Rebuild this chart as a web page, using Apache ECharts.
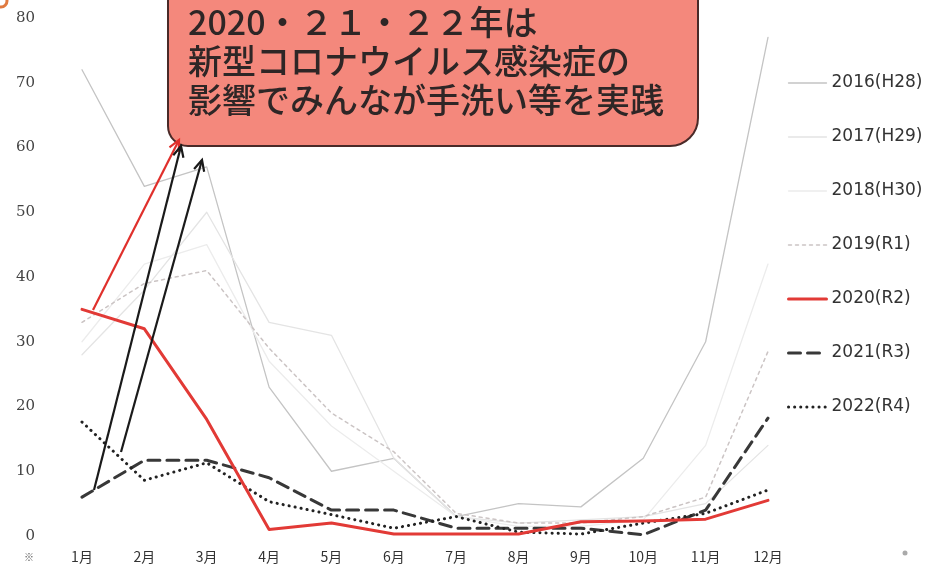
<!DOCTYPE html>
<html>
<head>
<meta charset="utf-8">
<script src="https://cdn.jsdelivr.net/npm/echarts@6/dist/echarts.min.js"></script>
<style>
  html, body { margin: 0; padding: 0; background: #fff; }
  #main { width: 941px; height: 567px; }
</style>
</head>
<body>
<div id="main"></div>
<script>
// 月（横軸）
var months = ['1月', '2月', '3月', '4月', '5月', '6月', '7月', '8月', '9月', '10月', '11月', '12月'];
// 年度ごとの値
var y2016 = [72, 54, 57, 23, 10, 12, 3, 5, 4.5, 12, 30, 77];
var y2017 = [28, 38, 50, 33, 31, 12, 3, 2, 2.5, 3, 5, 14];
var y2018 = [30, 42, 45, 27, 17, 10, 3, 1.5, 1.5, 2.5, 14, 42];
var y2019 = [33, 39, 41, 29, 19, 13, 3.5, 2, 2, 3, 6, 28.5];
var y2020 = [35, 32, 18, 1, 2, 0.3, 0.3, 0.3, 2.2, 2.3, 2.6, 5.5];
var y2021 = [6, 11.7, 11.7, 9, 4, 4, 1.2, 1.2, 1.2, 0.2, 4, 18.2];
var y2022 = [17.6, 8.6, 11.3, 5.3, 3.3, 1.2, 3, 0.6, 0.3, 2, 3.5, 7.1];
var yearNames = ['2016(H28)', '2017(H29)', '2018(H30)', '2019(R1)', '2020(R2)', '2021(R3)', '2022(R4)'];
// 吹き出しの文
var noteLines = ['2020・２１・２２年は', '新型コロナウイルス感染症の', '影響でみんなが手洗い等を実践'];

var chart = echarts.init(document.getElementById('main'));

function lineSeries(name, data, color, width, type, z) {
  return {
    name: name,
    type: 'line',
    data: data,
    symbol: 'none',
    smooth: false,
    z: z,
    lineStyle: { color: color, width: width, type: type, cap: 'round', join: 'round' },
    itemStyle: { color: color }
  };
}

// 矢印（注記）
function arrow(x1, y1, x2, y2, color) {
  var ang = Math.atan2(y2 - y1, x2 - x1);
  var len = 12, spread = 0.45;
  var p1 = [x2 - len * Math.cos(ang - spread), y2 - len * Math.sin(ang - spread)];
  var p2 = [x2 - len * Math.cos(ang + spread), y2 - len * Math.sin(ang + spread)];
  return [
    { type: 'line', z: 20, shape: { x1: x1, y1: y1, x2: x2, y2: y2 },
      style: { stroke: color, lineWidth: 2.2 } },
    { type: 'polyline', z: 20, shape: { points: [p1, [x2, y2], p2] },
      style: { stroke: color, lineWidth: 2.2, fill: null } }
  ];
}

var graphics = [
  {
    type: 'rect', z: 15,
    shape: { x: 168, y: -30, width: 530, height: 176, r: [0, 0, 28, 20] },
    style: { fill: '#f4887c', stroke: '#4a2a28', lineWidth: 2 }
  }
];
noteLines.forEach(function (t, i) {
  graphics.push({
    type: 'text', z: 16, left: 188, top: 5 + i * 39,
    style: { text: t, fill: '#2e2626', font: '500 34px "Noto Sans CJK JP"' }
  });
});
graphics = graphics
  .concat(arrow(93, 310, 179, 140, '#e0302c'))
  .concat(arrow(94, 490, 181, 146, '#1a1a1a'))
  .concat(arrow(121, 452, 202, 160, '#1a1a1a'));
graphics.push({ type: 'text', left: 24, top: 552, style: { text: '※', fill: '#555', font: '10px "Noto Sans CJK JP"' } });
graphics.push({ type: 'circle', shape: { cx: 905, cy: 553, r: 2.5 }, style: { fill: '#aaa' } });
graphics.push({ type: 'circle', shape: { cx: 1, cy: 1, r: 6 }, style: { fill: null, stroke: '#e07a40', lineWidth: 3 } });

var option = {
  backgroundColor: '#fff',
  animation: false,
  grid: { left: 82, right: 173, top: 18, bottom: 31 },
  legend: {
    orient: 'vertical',
    left: 782,
    top: 68,
    itemWidth: 38,
    itemHeight: 14,
    itemGap: 34,
    data: yearNames,
    itemStyle: { opacity: 0 },
    lineStyle: { width: 'inherit' },
    textStyle: { color: '#333', fontSize: 17, lineHeight: 20, fontFamily: 'DejaVu Sans' }
  },
  xAxis: {
    type: 'category',
    data: months,
    boundaryGap: false,
    axisLine: { show: false },
    axisTick: { show: false },
    splitLine: { show: false },
    axisLabel: { color: '#333', fontSize: 14, margin: 14, fontFamily: 'Noto Sans CJK JP' }
  },
  yAxis: {
    type: 'value',
    min: 0,
    max: 80,
    interval: 10,
    axisLine: { show: false },
    axisTick: { show: false },
    splitLine: { show: false },
    axisLabel: { color: '#444', fontSize: 15, margin: 47, fontFamily: 'DejaVu Serif' }
  },
  series: [
    lineSeries(yearNames[0], y2016, '#c4c4c4', 1.3, 'solid', 2),
    lineSeries(yearNames[1], y2017, '#e4e4e4', 1.3, 'solid', 2),
    lineSeries(yearNames[2], y2018, '#ececec', 1.3, 'solid', 2),
    lineSeries(yearNames[3], y2019, '#cbc4c4', 1.5, [3, 4], 2),
    lineSeries(yearNames[4], y2020, '#e23a36', 3, 'solid', 5),
    lineSeries(yearNames[5], y2021, '#383838', 3, [12, 7], 4),
    lineSeries(yearNames[6], y2022, '#222222', 3, [0.1, 6], 4)
  ],
  graphic: graphics
};

chart.setOption(option);
</script>
</body>
</html>
